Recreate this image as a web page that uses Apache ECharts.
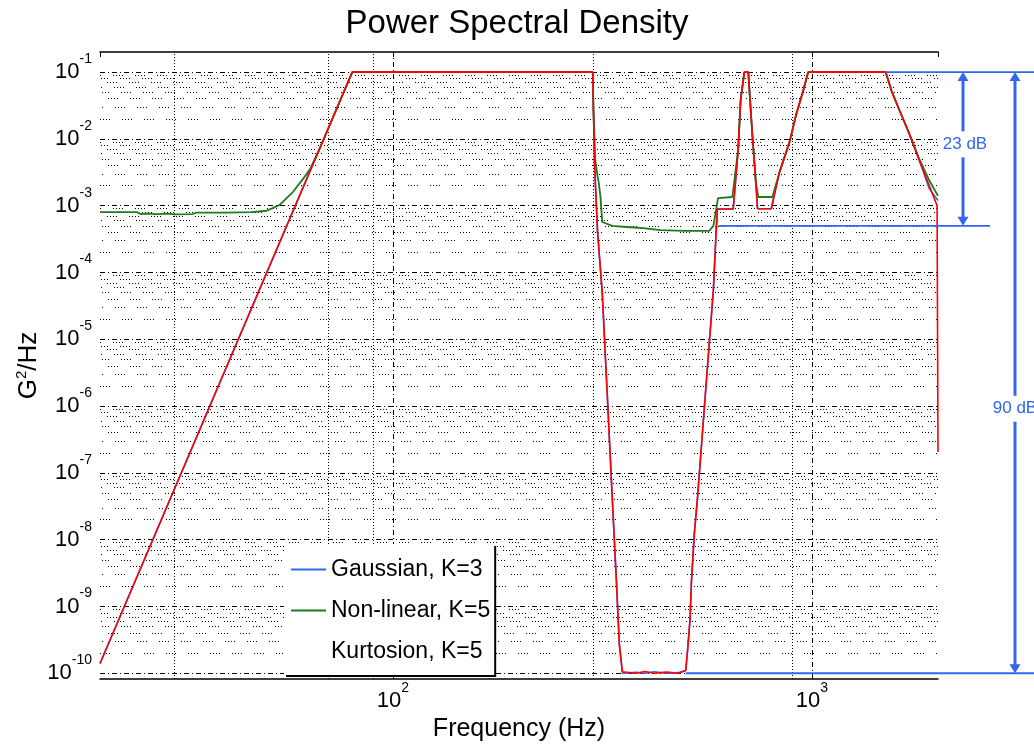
<!DOCTYPE html>
<html>
<head>
<meta charset="utf-8">
<title>Power Spectral Density</title>
<script src="https://cdn.jsdelivr.net/npm/echarts@6/dist/echarts.min.js"></script>
<style>
  html, body { margin: 0; padding: 0; background: #ffffff; }
  #chart { width: 1034px; height: 744px; }
</style>
</head>
<body>
<div id="chart"></div>
<script>
// ---- Axis limits ----
const freqRange = [20, 2000];        // Hz
const psdRange = [8.2e-11, 0.2];     // G^2/Hz

// ---- Gaussian, K=3 ----
const gaussFreq = [20, 80, 300, 301, 303, 308, 316, 325, 334, 341, 347, 353, 380, 400, 420, 450, 480, 500,
  506, 512, 516, 524, 533, 557, 582, 591, 595, 649, 667, 676, 690, 705, 721, 735, 742, 800,
  836, 885, 917, 953, 980, 1500, 1550, 1610, 1700, 1800, 1906, 2000];
const gaussPsd = [1.4e-10, 0.1, 0.1, 3e-2, 4e-3, 4e-4, 5e-5, 1.4e-6, 4e-8, 3e-9, 2.8e-10, 1.0e-10, 1.03e-10, 1.0e-10, 1.05e-10, 1.0e-10, 1.02e-10, 1.1e-10,
  2.5e-10, 6.5e-10, 2.4e-9, 1.2e-8, 4e-8, 1.5e-6, 5.5e-5, 4.2e-4, 8.9e-4, 8.9e-4, 6.9e-3, 3.8e-2, 0.1, 0.1, 1.15e-2, 2.2e-3, 9e-4, 9e-4,
  3.1e-3, 9.1e-3, 2.3e-2, 5.2e-2, 0.1, 0.1, 5.2e-2, 2.9e-2, 1.28e-2, 5e-3, 1.8e-3, 1.2e-3];

// ---- Non-linear, K=5 ----
const nonlinFreq = [20, 24.5, 25, 26, 27.3, 29, 30, 33.3, 34, 40, 46, 50, 53.7, 57.7, 61, 63.4, 66.8, 80,
  300, 301, 304, 307.6, 310, 313, 316, 334, 361, 396, 435, 496, 569, 582, 591, 597, 646,
  650, 667, 676, 690, 705, 721, 735, 745, 805, 836, 885, 917, 953, 980,
  1500, 1550, 1610, 1700, 1800, 1906, 2000];
const nonlinPsd = [8.0e-4, 8.0e-4, 7.5e-4, 7.6e-4, 7.5e-4, 7.6e-4, 7.4e-4, 7.5e-4, 7.9e-4, 7.9e-4, 8.0e-4, 8.4e-4, 1.03e-3, 1.6e-3, 2.5e-3, 3.5e-3, 7.0e-3, 0.1,
  0.1, 3e-2, 5e-3, 2.9e-3, 2.2e-3, 1.35e-3, 5.7e-4, 5.0e-4, 4.8e-4, 4.6e-4, 4.3e-4, 4.2e-4, 4.2e-4, 5.0e-4, 8.7e-4, 1.3e-3, 1.35e-3,
  1.4e-3, 6.9e-3, 3.8e-2, 0.1, 0.1, 1.15e-2, 2.2e-3, 1.35e-3, 1.35e-3, 3.1e-3, 9.1e-3, 2.3e-2, 5.2e-2, 0.1,
  0.1, 5.2e-2, 2.9e-2, 1.3e-2, 5.2e-3, 2.4e-3, 1.4e-3];

// ---- Kurtosion, K=5 ----
const kurtFreq = [20, 80, 300, 301, 303, 308, 316, 325, 334, 341, 347, 353, 380, 400, 420, 450, 480, 500,
  506, 512, 516, 524, 533, 557, 582, 591, 595, 649, 667, 676, 690, 705, 721, 735, 742, 800,
  836, 885, 917, 953, 980, 1500, 1550, 1610, 1700, 1800, 1906, 1990, 2000];
const kurtPsd = [1.4e-10, 0.1, 0.1, 3e-2, 4e-3, 4e-4, 5e-5, 1.4e-6, 4e-8, 3e-9, 2.8e-10, 1.05e-10, 1.0e-10, 1.06e-10, 1.0e-10, 1.04e-10, 1.0e-10, 1.1e-10,
  2.5e-10, 6.5e-10, 2.4e-9, 1.2e-8, 4e-8, 1.5e-6, 5.5e-5, 4.2e-4, 8.9e-4, 8.9e-4, 6.9e-3, 3.8e-2, 0.1, 0.1, 1.15e-2, 2.2e-3, 9e-4, 9e-4,
  3.1e-3, 9.1e-3, 2.3e-2, 5.2e-2, 0.1, 0.1, 5.2e-2, 2.9e-2, 1.28e-2, 5e-3, 2e-3, 1.0e-3, 2.06e-7];

// ---- Series names ----
const seriesNames = ['Gaussian, K=3', 'Non-linear, K=5', 'Kurtosion, K=5'];

// ---- Grid lines ----
const xGridFreqs = [30, 70, 90, 100, 300, 900, 1000];
const yDecadeExps = [-1, -2, -3, -4, -5, -6, -7, -8, -9, -10];
const yMinorSteps = [2, 3, 4, 5, 6, 7, 8, 9];

// ---- Level annotations ----
const refLevels = { top: 0.1, mid: 5e-4, bottom: 1e-10 };
const refStartFreq = { top: 1500, mid: 600, bottom: 500 };
const refLabels = ['23 dB', '90 dB'];

const FONT = '"Liberation Sans", Arial, Helvetica, sans-serif';
const ANNOT_BLUE = '#3366ee';
const GREEN = '#1f7a1f';
const RED = '#ff0000';

// dash patterns for the grid
const DASH_DOT = [5, 3, 1, 3];
const DOT_GROUPS = [1, 2, 1, 2, 1, 2, 1, 12];

function pairs(fs, vs) { return fs.map((f, i) => [f, vs[i]]); }

function powerLabel(value) {
  const lg = Math.log10(value);
  const e = Math.round(lg);
  if (Math.abs(lg - e) > 1e-6) return '';
  return '{b|10}{e|' + e + '}';
}

const powRich = {
  b: { fontSize: 22, lineHeight: 40, fontFamily: FONT, color: '#000' },
  e: { fontSize: 14, lineHeight: 12, verticalAlign: 'top', fontFamily: FONT, color: '#000' }
};

// grid line definitions for the mark lines
const majorY = yDecadeExps.map(e => ({ yAxis: Math.pow(10, e), lineStyle: { type: DASH_DOT } }));
const minorY = [];
yDecadeExps.filter(e => e <= -2).forEach(e => {
  yMinorSteps.forEach((k, i) => minorY.push({
    yAxis: k * Math.pow(10, e),
    lineStyle: { type: DOT_GROUPS, dashOffset: (i * 7) % 20 }
  }));
});
const gridX = xGridFreqs.map(f => ({
  xAxis: f,
  lineStyle: { type: (f === 100 || f === 1000) ? DASH_DOT : [1, 2] }
}));

const chart = echarts.init(document.getElementById('chart'), null, { renderer: 'canvas' });

const option = {
  animation: false,
  backgroundColor: '#ffffff',
  title: {
    text: 'Power Spectral Density',
    left: 'center',
    top: 2,
    textStyle: { fontSize: 33, fontWeight: 'normal', color: '#000', fontFamily: FONT }
  },
  grid: { left: 100, right: 96, top: 52, bottom: 65, containLabel: false, outerBoundsMode: 'none' },
  legend: {
    orient: 'vertical',
    left: 284,
    top: 544,
    padding: [14, 4, 12, 6],
    itemWidth: 35,
    itemHeight: 22,
    itemGap: 18,
    backgroundColor: '#ffffff',
    shadowColor: '#000000',
    shadowBlur: 0,
    shadowOffsetX: 2,
    shadowOffsetY: 2,
    textStyle: { fontSize: 23, color: '#000', fontFamily: FONT, lineHeight: 22 },
    data: [
      { name: seriesNames[0], itemStyle: { opacity: 0 } },
      { name: seriesNames[1], itemStyle: { opacity: 0 } },
      { name: seriesNames[2], itemStyle: { opacity: 0 }, lineStyle: { opacity: 0 } }
    ]
  },
  xAxis: [
    {
      type: 'log',
      logBase: 10,
      min: freqRange[0],
      max: freqRange[1],
      position: 'bottom',
      name: 'Frequency (Hz)',
      nameLocation: 'middle',
      nameGap: 34,
      nameTextStyle: { fontSize: 25, color: '#000', fontFamily: FONT },
      axisLine: { show: true, lineStyle: { color: '#000', width: 1.5 } },
      axisTick: { show: true, inside: true, length: 5, lineStyle: { color: '#000' } },
      axisLabel: { margin: 2, formatter: powerLabel, rich: powRich, showMinLabel: false, showMaxLabel: false },
      splitLine: { show: false }
    },
    {
      type: 'log',
      logBase: 10,
      min: freqRange[0],
      max: freqRange[1],
      position: 'top',
      axisLine: { show: true, lineStyle: { color: '#000', width: 1.5 } },
      axisTick: { show: true, inside: true, length: 5, lineStyle: { color: '#000' } },
      axisLabel: { show: false },
      splitLine: { show: false }
    }
  ],
  yAxis: {
    type: 'log',
    logBase: 10,
    min: psdRange[0],
    max: psdRange[1],
    name: '{n|G}{s|2}{n|/Hz}',
    nameLocation: 'middle',
    nameGap: 56,
    nameMoveOverlap: false,
    nameRotate: 90,
    nameTextStyle: {
      rich: {
        n: { fontSize: 26, lineHeight: 30, color: '#000', fontFamily: FONT },
        s: { fontSize: 15, lineHeight: 14, verticalAlign: 'top', color: '#000', fontFamily: FONT }
      }
    },
    axisLine: { show: false },
    axisTick: { show: false },
    axisLabel: { margin: 8, formatter: powerLabel, rich: powRich, showMinLabel: false, showMaxLabel: false },
    splitLine: { show: false }
  },
  series: [
    {
      name: '__grid',
      type: 'line',
      data: [],
      silent: true,
      markLine: {
        z: 1,
        silent: true,
        animation: false,
        precision: 15,
        symbol: ['none', 'none'],
        label: { show: false },
        emphasis: { disabled: true },
        lineStyle: { color: '#000', width: 1, type: [1, 2] },
        data: gridX.concat(majorY).concat(minorY)
      }
    },
    {
      name: seriesNames[0],
      type: 'line',
      data: pairs(gaussFreq, gaussPsd),
      symbol: 'none',
      color: ANNOT_BLUE,
      lineStyle: { width: 1.6, color: ANNOT_BLUE },
      z: 2
    },
    {
      name: seriesNames[1],
      type: 'line',
      data: pairs(nonlinFreq, nonlinPsd),
      symbol: 'none',
      color: GREEN,
      lineStyle: { width: 1.8, color: GREEN },
      z: 3
    },
    {
      name: seriesNames[2],
      type: 'line',
      data: pairs(kurtFreq, kurtPsd),
      symbol: 'none',
      color: RED,
      lineStyle: { width: 1.6, color: RED },
      z: 4
    }
  ]
};

chart.setOption(option);

// ---- dB range annotations, placed from the axis scales ----
const fx = f => chart.convertToPixel({ xAxisIndex: 0 }, f);
const vy = v => chart.convertToPixel({ yAxisIndex: 0 }, v);

const yTop = vy(refLevels.top);
const yMid = vy(refLevels.mid);
const yBot = vy(refLevels.bottom);
const arrowX1 = 963, arrowX2 = 1015;
const textY1 = yTop + 0.47 * (yMid - yTop);
const textY2 = yTop + 0.56 * (yBot - yTop);
const gapHalf = 13;

function hLine(x1, x2, y) {
  return { type: 'line', silent: true, z: 10, shape: { x1, y1: y, x2, y2: y }, style: { stroke: ANNOT_BLUE, lineWidth: 1.8 } };
}
function vLine(x, y1, y2) {
  return { type: 'line', silent: true, z: 10, shape: { x1: x, y1, x2: x, y2 }, style: { stroke: ANNOT_BLUE, lineWidth: 3 } };
}
function head(x, yTip, dir) {
  return { type: 'polygon', silent: true, z: 10,
    shape: { points: [[x, yTip], [x - 5.5, yTip + dir * 9], [x + 5.5, yTip + dir * 9]] },
    style: { fill: ANNOT_BLUE } };
}
function dbText(x, y, t) {
  return { type: 'text', silent: true, z: 11, x, y,
    style: { text: t, fill: ANNOT_BLUE, font: '17px ' + FONT, align: 'center', verticalAlign: 'middle' } };
}

chart.setOption({
  graphic: [
    hLine(fx(refStartFreq.top), 1034, yTop),
    hLine(fx(refStartFreq.mid), 990, yMid),
    hLine(fx(refStartFreq.bottom), 1034, yBot),
    vLine(arrowX1, yTop + 6, textY1 - gapHalf),
    vLine(arrowX1, textY1 + gapHalf, yMid - 6),
    head(arrowX1, yTop, 1),
    head(arrowX1, yMid, -1),
    dbText(arrowX1 + 2, textY1, refLabels[0]),
    vLine(arrowX2, yTop + 6, textY2 - gapHalf),
    vLine(arrowX2, textY2 + gapHalf, yBot - 6),
    head(arrowX2, yTop, 1),
    head(arrowX2, yBot, -1),
    dbText(arrowX2, textY2, refLabels[1])
  ]
});
</script>
</body>
</html>
